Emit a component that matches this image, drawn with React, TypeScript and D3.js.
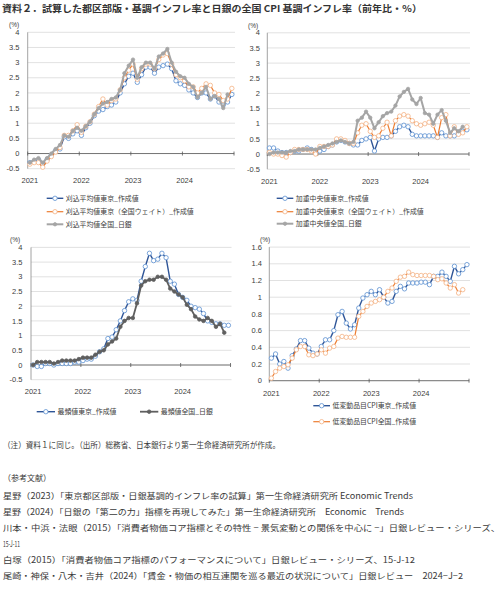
import React from 'react';
import * as d3 from 'd3';

// ---------- data ----------
const yearLabels = ['2021', '2022', '2023', '2024'];
const nMonths = 48;

// chart 1: trimmed mean
const trimTokyo = [-0.3,-0.25,-0.2,-0.35,-0.2,-0.05,0.1,0.15,0.55,0.5,0.65,0.75,0.6,0.85,1.0,1.25,1.4,1.45,1.55,1.6,1.7,2.0,2.3,2.55,2.65,2.35,2.6,2.85,2.85,2.65,2.85,2.9,2.95,2.8,2.4,2.3,2.25,2.1,2.0,1.85,2.0,2.0,1.8,1.9,1.7,1.6,1.7,1.95];
const trimTokyoNW = [-0.35,-0.3,-0.3,-0.45,-0.25,-0.1,0.05,0.2,0.6,0.6,0.75,0.95,0.7,0.9,1.05,1.3,1.55,1.8,1.6,1.75,1.8,2.1,2.5,2.75,2.95,2.45,2.8,2.95,2.95,2.8,3.1,3.25,3.3,2.95,2.6,2.5,2.4,2.2,2.2,2.0,2.15,2.3,2.25,2.0,1.95,1.75,1.8,2.15];
const trimNational = [-0.3,-0.2,-0.15,-0.3,-0.15,0.0,0.15,0.28,0.6,0.55,0.75,0.85,0.75,0.9,1.05,1.3,1.5,1.65,1.7,1.8,1.85,2.1,2.65,2.9,3.1,2.5,2.85,3.0,3.0,2.8,3.2,3.3,3.45,3.0,2.7,2.55,2.5,2.3,2.2,1.85,2.0,2.2,1.8,1.9,1.8,1.5,1.95];

// chart 2: weighted median
const medTokyo = [0.2,0.2,0.1,0.05,0.05,0.05,0.1,0.1,0.15,0.2,0.15,0.1,0.1,0.15,0.25,0.3,0.4,0.45,0.4,0.35,0.3,0.3,0.45,0.5,0.55,0.1,0.5,0.55,0.55,0.6,0.75,0.9,0.95,0.9,0.65,0.6,0.6,0.6,0.6,0.6,0.55,0.7,0.6,0.6,0.6,0.7,0.75,0.8];
const medTokyoNW = [0.05,0.0,0.0,-0.05,-0.1,0.05,0.15,0.15,0.15,0.15,0.1,0.0,0.25,0.25,0.25,0.3,0.5,0.5,0.45,0.35,0.35,0.7,0.95,1.0,0.75,0.55,0.6,0.85,1.05,0.6,1.1,1.25,1.3,1.25,1.1,1.0,0.95,1.0,1.05,0.95,0.55,1.2,1.3,0.6,0.9,0.65,0.7,0.9];
const medNational = [0.0,0.05,0.05,0.05,0.05,0.1,0.1,0.15,0.15,0.15,0.15,0.15,0.2,0.25,0.3,0.35,0.4,0.45,0.4,0.35,0.4,1.1,1.2,1.4,1.2,0.85,1.05,1.25,1.35,1.4,1.6,1.9,2.05,2.15,1.8,1.65,1.85,1.35,1.3,1.0,1.3,1.45,1.1,0.7,0.85,0.75,0.9];

// chart 3: mode
const modeTokyo = [0.0,-0.05,-0.05,0.05,0.05,0.0,0.05,0.05,0.05,0.05,0.1,0.1,0.15,0.2,0.2,0.3,0.45,0.55,0.9,0.95,1.2,1.5,1.85,2.15,2.25,2.2,2.85,3.35,3.8,3.55,3.6,3.8,3.65,2.85,2.75,2.4,2.3,2.2,2.0,1.95,1.9,1.75,1.5,1.45,1.4,1.4,1.35,1.35];
const modeNational = [0.0,0.1,0.1,0.1,0.1,0.05,0.1,0.15,0.15,0.15,0.15,0.2,0.25,0.25,0.25,0.35,0.45,0.5,0.7,0.8,0.9,1.3,1.5,1.6,1.6,2.1,2.7,2.85,2.9,2.9,3.0,3.0,2.9,2.6,2.5,2.4,2.3,2.05,1.9,1.65,1.55,1.5,1.6,1.5,1.3,1.4,1.1];

// chart 4: low-variance CPI
const lowVarTokyo = [0.27,0.32,0.2,0.23,0.15,0.3,0.38,0.48,0.48,0.39,0.33,0.32,0.41,0.49,0.49,0.6,0.79,0.83,0.69,0.62,0.67,0.87,0.99,1.03,1.07,1.03,1.09,1.0,0.93,0.95,1.07,1.13,1.1,1.17,1.17,1.17,1.18,1.18,1.15,1.25,1.25,1.3,1.25,1.19,1.37,1.28,1.33,1.39];
const lowVarNational = [0.03,0.11,0.15,0.17,0.19,0.27,0.37,0.41,0.41,0.31,0.3,0.32,0.37,0.33,0.39,0.41,0.51,0.53,0.52,0.52,0.52,0.77,0.83,0.89,0.93,0.95,0.97,1.0,1.07,1.11,1.19,1.24,1.25,1.3,1.27,1.26,1.26,1.26,1.26,1.25,1.21,1.22,1.17,1.11,1.15,1.05,1.09];

const ticksA = [-0.5, 0, 0.5, 1, 1.5, 2, 2.5, 3, 3.5, 4];
const ticksA_labels = ['-0.5', '0', '0.5', '1', '1.5', '2', '2.5', '3', '3.5', '4'];
const ticksB = [0, 0.2, 0.4, 0.6, 0.8, 1, 1.2, 1.4, 1.6];
const ticksB_labels = ['0', '0.2', '0.4', '0.6', '0.8', '1', '1.2', '1.4', '1.6'];

const legend1 = ['刈込平均値東京_作成値', '刈込平均値東京（全国ウェイト）_作成値', '刈込平均値全国_日銀'];
const legend2 = ['加重中央値東京_作成値', '加重中央値東京（全国ウェイト）_作成値', '加重中央値全国_日銀'];
const legend3 = ['最頻値東京_作成値', '最頻値全国_日銀'];
const legend4 = ['低変動品目CPI東京_作成値', '低変動品目CPI全国_作成値'];

const titleText = '資料２．試算した都区部版・基調インフレ率と日銀の全国 CPI 基調インフレ率（前年比・％）';
const noteLines = [
  '（注）資料１に同じ。（出所）総務省、日本銀行より第一生命経済研究所が作成。',
  '（参考文献）',
  '星野（2023）「東京都区部版・日銀基調的インフレ率の試算」第一生命経済研究所 Economic Trends',
  '星野（2024）「日銀の「第二の力」指標を再現してみた」第一生命経済研究所　Economic　Trends',
  '川本・中浜・法眼（2015）「消費者物価コア指標とその特性 − 景気変動との関係を中心に −」日銀レビュー・シリーズ、',
  '15-J-11',
  '白塚（2015）「消費者物価コア指標のパフォーマンスについて」日銀レビュー・シリーズ、15-J-12',
  '尾崎・神保・八木・吉井（2024）「賃金・物価の相互連関を巡る最近の状況について」日銀レビュー　2024−J−2',
];

// ---------- styles ----------
type Kind = 'blue' | 'orange' | 'gray' | 'dark';
const STY: Record<Kind, { line: string; lw: number; mStroke: string; mFill: string; r: number }> = {
  blue: { line: '#2f5597', lw: 1.4, mStroke: '#5b8fd0', mFill: '#ffffff', r: 2.2 },
  orange: { line: '#ed7d31', lw: 1.2, mStroke: '#f4b183', mFill: '#ffffff', r: 2.2 },
  gray: { line: '#a5a5a5', lw: 2.0, mStroke: '#a5a5a5', mFill: '#a5a5a5', r: 1.7 },
  dark: { line: '#5f5f5f', lw: 1.8, mStroke: '#5f5f5f', mFill: '#5f5f5f', r: 1.8 },
};

const SANS = "'Liberation Sans', Arial, sans-serif";
const JP = "'Noto Sans CJK JP', sans-serif";

function Marker({ cx, cy, kind }: { cx: number; cy: number; kind: Kind }) {
  const s = STY[kind];
  return <circle cx={cx} cy={cy} r={s.r} fill={s.mFill} stroke={s.mStroke} strokeWidth={0.8} />;
}

type PanelProps = {
  xr: [number, number];
  yDomain: [number, number];
  yRange: [number, number];
  ticks: number[];
  tickLabels: string[];
  labelRight: number;
  yearY: number;
  pct: [number, number];
  series: { values: number[]; kind: Kind }[];
};

function Panel({ xr, yDomain, yRange, ticks, tickLabels, labelRight, yearY, pct, series }: PanelProps) {
  const x = d3.scaleLinear().domain([0, nMonths]).range(xr);
  const y = d3.scaleLinear().domain(yDomain).range(yRange);
  const line = d3.line<number>().x((_, i) => x(i + 0.5)).y((d) => y(d));
  const y0 = y(Math.max(0, yDomain[0]));
  return (
    <g>
      {ticks.map((t) => (
        <line key={'g' + t} x1={xr[0]} x2={xr[1] + 1} y1={y(t)} y2={y(t)} stroke="#d9d9d9" strokeWidth={0.8} />
      ))}
      {ticks.map((t, k) => (
        <text key={'t' + t} x={labelRight} y={y(t)} dy="0.35em" textAnchor="end" fontSize={7.5} fontFamily={SANS} fill="#404040">
          {tickLabels[k]}
        </text>
      ))}
      <text x={pct[0]} y={pct[1]} fontSize={6.5} fontFamily={SANS} fill="#404040">(%)</text>
      <line x1={xr[0]} x2={xr[0]} y1={yRange[1]} y2={yRange[0]} stroke="#8c8c8c" strokeWidth={0.8} />
      <line x1={xr[0]} x2={xr[1]} y1={y0} y2={y0} stroke="#595959" strokeWidth={0.8} />
      {[0, 12, 24, 36, 48].map((m) => (
        <line key={'xt' + m} x1={x(m)} x2={x(m)} y1={y0 - 2} y2={y0 + 2} stroke="#595959" strokeWidth={0.8} />
      ))}
      {yearLabels.map((lab, k) => (
        <text key={lab} x={x(k * 12 + 0.5)} y={yearY} textAnchor="middle" fontSize={7.5} fontFamily={SANS} fill="#404040">
          {lab}
        </text>
      ))}
      {series.map((s, si) => (
        <g key={si}>
          <path d={line(s.values) || ''} fill="none" stroke={STY[s.kind].line} strokeWidth={STY[s.kind].lw} strokeLinejoin="round" />
          {s.values.map((v, i) => (
            <Marker key={i} cx={x(i + 0.5)} cy={y(v)} kind={s.kind} />
          ))}
        </g>
      ))}
    </g>
  );
}

function LegendItem({ x1, x2, y, kind, label }: { x1: number; x2: number; y: number; kind: Kind; label: string }) {
  const s = STY[kind];
  return (
    <g>
      <line x1={x1} x2={x2} y1={y} y2={y} stroke={s.line} strokeWidth={s.lw} />
      <Marker cx={(x1 + x2) / 2} cy={y} kind={kind} />
      <text x={x2 + 2.5} y={y} dy="0.36em" fontSize={6.9} fontFamily={JP} fill="#404040">{label}</text>
    </g>
  );
}

export default function App() {
  const noteY = [448, 480.5, 498.5, 514.5, 530.5, 546.5, 563, 579];
  const noteW = [277, 48, 410, 401, 497, 17, 412, 460];
  return (
    <svg width={500} height={589} style={{ position: 'absolute', left: 0, top: 0, background: '#fff' }}>
      <rect x={0} y={0} width={500} height={589} fill="#fff" />
      <text x={2} y={12} fontSize={9.5} fontWeight="bold" fontFamily={JP} fill="#333" textLength={420} lengthAdjust="spacingAndGlyphs">
        {titleText}
      </text>

      <Panel xr={[27.7, 234]} yDomain={[-0.5, 4]} yRange={[168.7, 32.3]} ticks={ticksA} tickLabels={ticksA_labels}
        labelRight={19.5} yearY={182.7} pct={[9, 27.3]}
        series={[{ values: trimTokyo, kind: 'blue' }, { values: trimTokyoNW, kind: 'orange' }, { values: trimNational, kind: 'gray' }]} />
      <LegendItem x1={46.7} x2={63.3} y={198.3} kind="blue" label={legend1[0]} />
      <LegendItem x1={46.7} x2={63.3} y={211.7} kind="orange" label={legend1[1]} />
      <LegendItem x1={46.7} x2={63.3} y={224.3} kind="gray" label={legend1[2]} />

      <Panel xr={[267.3, 469]} yDomain={[-0.5, 4]} yRange={[169.2, 32.8]} ticks={ticksA} tickLabels={ticksA_labels}
        labelRight={260} yearY={184.3} pct={[248, 27.5]}
        series={[{ values: medTokyo, kind: 'blue' }, { values: medTokyoNW, kind: 'orange' }, { values: medNational, kind: 'gray' }]} />
      <LegendItem x1={276.7} x2={293.3} y={198.3} kind="blue" label={legend2[0]} />
      <LegendItem x1={276.7} x2={293.3} y={211.7} kind="orange" label={legend2[1]} />
      <LegendItem x1={276.7} x2={293.3} y={223.7} kind="gray" label={legend2[2]} />

      <Panel xr={[31, 230.5]} yDomain={[-0.5, 4]} yRange={[379.7, 247.4]} ticks={ticksA} tickLabels={ticksA_labels}
        labelRight={22.5} yearY={394.4} pct={[10, 242]}
        series={[{ values: modeTokyo, kind: 'blue' }, { values: modeNational, kind: 'dark' }]} />
      <LegendItem x1={36.7} x2={55} y={411.7} kind="blue" label={legend3[0]} />
      <LegendItem x1={140} x2={158.3} y={411.7} kind="dark" label={legend3[1]} />

      <Panel xr={[269.3, 469]} yDomain={[0, 1.6]} yRange={[380.7, 247.1]} ticks={ticksB} tickLabels={ticksB_labels}
        labelRight={262} yearY={396} pct={[260, 241.8]}
        series={[{ values: lowVarTokyo, kind: 'blue' }, { values: lowVarNational, kind: 'orange' }]} />
      <LegendItem x1={313.3} x2={330} y={405.7} kind="blue" label={legend4[0]} />
      <LegendItem x1={313.3} x2={330} y={421.7} kind="orange" label={legend4[1]} />

      {noteLines.map((t, k) => (
        <text key={k} x={3} y={noteY[k]} fontSize={8.3} fontFamily={JP} fill="#3a3a3a"
          textLength={noteW[k]} lengthAdjust="spacingAndGlyphs">{t}</text>
      ))}
    </svg>
  );
}
